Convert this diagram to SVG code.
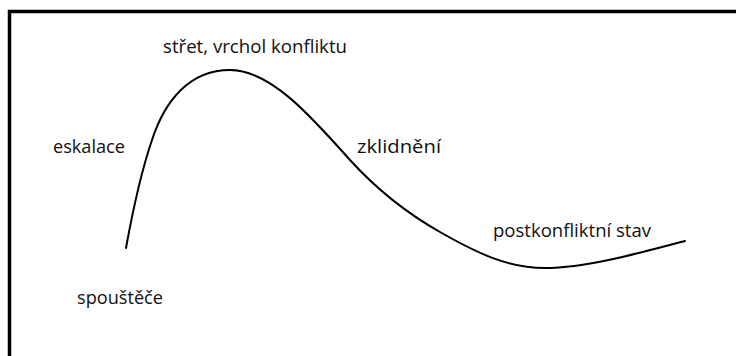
<svg xmlns="http://www.w3.org/2000/svg" width="736" height="356" viewBox="0 0 736 356">
  <style>
    .frame { fill: none; stroke: #000; stroke-width: 3.5; }
    .curve { fill: none; stroke: #000; stroke-width: 2; stroke-linecap: round; stroke-linejoin: round; }
    .label { font-family: "Open Sans", "Liberation Sans", sans-serif; font-size: 18px; fill: #111; }
  </style>
  <rect width="736" height="356" fill="#fff"/>
  <!-- outer frame; right and bottom edges run past the canvas -->
  <rect class="frame" x="9.5" y="11.5" width="740" height="360"/>

  <g id="connectors">
    <path id="conflict-curve" class="curve" d="M126,248 C132,215 140,175 152,140 C165,100 190,70 230,70 C270,70 310,115 350,160 C380,193 410,215 440,232 C480,255 510,268 545,268 C585,268 640,253 685,241"/>
  </g>

  <g id="peak">
    <text class="label" x="163" y="53" textLength="184" lengthAdjust="spacingAndGlyphs">střet, vrchol konfliktu</text>
  </g>
  <g id="escalation">
    <text class="label" x="53" y="153" textLength="72" lengthAdjust="spacingAndGlyphs">eskalace</text>
  </g>
  <g id="calming">
    <text class="label" x="357" y="153" textLength="84" lengthAdjust="spacingAndGlyphs">zklidnění</text>
  </g>
  <g id="post-conflict">
    <text class="label" x="493" y="237" textLength="158" lengthAdjust="spacingAndGlyphs">postkonfliktní stav</text>
  </g>
  <g id="triggers">
    <text class="label" x="77" y="304" textLength="86" lengthAdjust="spacingAndGlyphs">spouštěče</text>
  </g>
</svg>
